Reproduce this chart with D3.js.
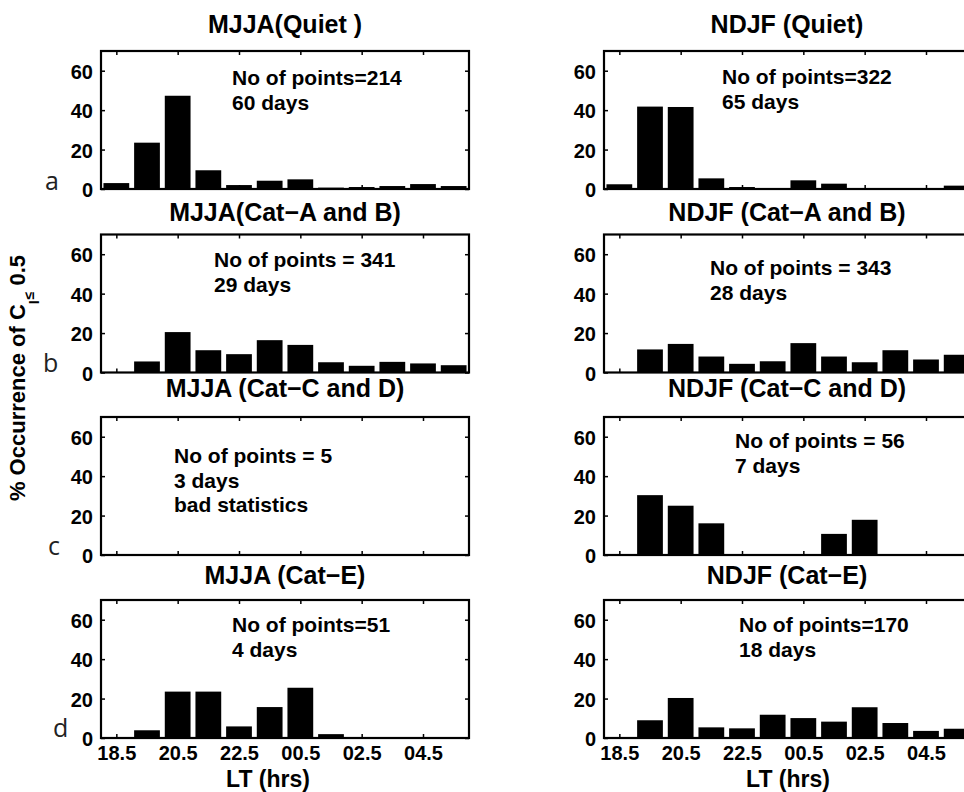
<!DOCTYPE html>
<html>
<head>
<meta charset="utf-8">
<script src="https://cdn.jsdelivr.net/npm/d3@7/dist/d3.min.js"></script>
<style>
  body { margin: 0; background: #fff; }
  text { font-family: "Liberation Sans", Arial, Helvetica, sans-serif; font-weight: bold; fill: #000; }
  .letter { font-family: "Open Sans", sans-serif; font-weight: normal; fill: #222; }
</style>
</head>
<body>
<svg id="chart" width="964" height="792"></svg>
<script>
// bin centres in LT hours (24.5 = 00.5 next day)
const binCenters = [18.5, 19.5, 20.5, 21.5, 22.5, 23.5, 24.5, 25.5, 26.5, 27.5, 28.5, 29.5];
const xTickValues = [18.5, 20.5, 22.5, 24.5, 26.5, 28.5];
const yTickValues = [0, 20, 40, 60];

// % occurrence per bin
const mjjaQuiet = [3.0, 23.5, 47.3, 9.5, 2.0, 4.2, 4.9, 0.7, 1.0, 1.5, 2.5, 1.5];
const ndjfQuiet = [2.4, 41.8, 41.6, 5.4, 1.0, 0, 4.4, 2.7, 0.3, 0.3, 0, 1.7];
const mjjaAB = [0, 5.6, 20.5, 11.3, 9.3, 16.4, 14.0, 5.2, 3.4, 5.4, 4.6, 3.7];
const ndjfAB = [0, 11.7, 14.5, 8.1, 4.4, 5.7, 14.9, 8.1, 5.2, 11.3, 6.6, 9.0];
const mjjaCD = [0, 0, 0, 0, 0, 0, 0, 0, 0, 0, 0, 0];
const ndjfCD = [0, 30.36, 25.0, 16.07, 0, 0, 0, 10.71, 17.86, 0, 0, 0];
const mjjaE = [0, 3.92, 23.53, 23.53, 5.88, 15.69, 25.49, 1.96, 0, 0, 0, 0];
const ndjfE = [0, 9.0, 20.3, 5.4, 4.9, 11.8, 10.1, 8.3, 15.6, 7.6, 3.6, 4.7];

const titlesMJJA = ["MJJA(Quiet )", "MJJA(Cat\u2212A and B)", "MJJA (Cat\u2212C and D)", "MJJA (Cat\u2212E)"];
const titlesNDJF = ["NDJF (Quiet)", "NDJF (Cat\u2212A and B)", "NDJF (Cat\u2212C and D)", "NDJF (Cat\u2212E)"];
const notesMJJA = [
  ["No of points=214", "60 days"],
  ["No of points = 341", "29 days"],
  ["No of points = 5", "3 days", "bad statistics"],
  ["No of points=51", "4 days"]
];
const notesNDJF = [
  ["No of points=322", "65 days"],
  ["No of points = 343", "28 days"],
  ["No of points = 56", "7 days"],
  ["No of points=170", "18 days"]
];
const rowLetters = ["a", "b", "c", "d"];

const svg = d3.select("#chart");
const panelW = 368, panelH = 138;
const colLeft = [101, 604];
const rowTop = [51, 234.5, 417, 600];
const titleY = [33, 221, 397, 584];
const titleX = [285, 787];
const noteX = [[232, 214, 174, 232], [722, 710, 735, 739]];
const noteY = [[85, 267, 463, 632], [84, 275, 448, 632]];
const letterPos = [[45, 190], [43, 372], [48, 555], [53, 737]];

const panels = [];
[mjjaQuiet, mjjaAB, mjjaCD, mjjaE].forEach((v, r) =>
  panels.push({ col: 0, row: r, values: v, title: titlesMJJA[r], notes: notesMJJA[r] }));
[ndjfQuiet, ndjfAB, ndjfCD, ndjfE].forEach((v, r) =>
  panels.push({ col: 1, row: r, values: v, title: titlesNDJF[r], notes: notesNDJF[r] }));

const fmtLT = d => d3.format("04.1f")(d % 24);

panels.forEach(p => {
  const x0 = colLeft[p.col], top = rowTop[p.row];
  const x = d3.scaleLinear().domain([18, 30]).range([x0, x0 + panelW]);
  const y = d3.scaleLinear().domain([0, 70]).range([top + panelH, top]);
  const g = svg.append("g");

  // bars
  g.selectAll("rect.bar")
    .data(binCenters.map((h, i) => ({ h, v: p.values[i] })).filter(d => d.v > 0))
    .enter().append("rect")
    .attr("class", "bar")
    .attr("x", d => x(d.h - 0.42))
    .attr("width", d => x(d.h + 0.42) - x(d.h - 0.42))
    .attr("y", d => y(d.v))
    .attr("height", d => y(0) - y(d.v))
    .attr("fill", "#000");

  // inward ticks on all four sides
  g.append("g").attr("transform", `translate(0,${top + panelH})`)
    .call(d3.axisBottom(x).tickValues(xTickValues).tickSize(-4).tickPadding(8)
      .tickFormat(p.row === 3 ? fmtLT : ""));
  g.append("g").attr("transform", `translate(0,${top})`)
    .call(d3.axisTop(x).tickValues(xTickValues).tickSize(-4).tickFormat(""));
  const left = g.append("g").attr("transform", `translate(${x0},0)`)
    .call(d3.axisLeft(y).tickValues(yTickValues).tickSize(-4).tickPadding(8));
  g.append("g").attr("transform", `translate(${x0 + panelW},0)`)
    .call(d3.axisRight(y).tickValues(yTickValues).tickSize(-4).tickFormat(""));
  g.selectAll(".domain").remove();
  g.selectAll(".tick line").attr("stroke", "#000").attr("stroke-width", 1.5);
  g.selectAll(".tick text").attr("font-size", 20).attr("font-family", null);
  left.selectAll(".tick text").attr("dy", "0.38em");

  // box
  g.append("rect")
    .attr("x", x0).attr("y", top).attr("width", panelW).attr("height", panelH)
    .attr("fill", "none").attr("stroke", "#000").attr("stroke-width", 2.2);

  // title
  g.append("text").attr("x", titleX[p.col]).attr("y", titleY[p.row])
    .attr("text-anchor", "middle").attr("font-size", 25).text(p.title);

  // annotation
  p.notes.forEach((t, k) => {
    g.append("text").attr("x", noteX[p.col][p.row]).attr("y", noteY[p.col][p.row] + k * 24.5)
      .attr("font-size", 21).text(t);
  });

  if (p.row === 3) {
    g.append("text").attr("x", p.col === 0 ? 268 : 788).attr("y", 787)
      .attr("text-anchor", "middle").attr("font-size", 23).text("LT (hrs)");
  }
});

// row letters
rowLetters.forEach((l, i) => {
  svg.append("text").attr("class", "letter")
    .attr("x", letterPos[i][0]).attr("y", letterPos[i][1])
    .attr("font-size", 25).text(l);
});

// shared y label
const yl = svg.append("text")
  .attr("transform", "translate(25,378) rotate(-90)")
  .attr("text-anchor", "middle").attr("font-size", 22);
yl.append("tspan").text("% Occurrence of C");
yl.append("tspan").attr("dy", 14).attr("font-size", 14).text("I");
yl.append("tspan").attr("dy", -5).attr("dx", 1).attr("font-size", 14).text("\u2264");
yl.append("tspan").attr("dy", -9).attr("font-size", 22).text(" 0.5");
</script>
</body>
</html>
